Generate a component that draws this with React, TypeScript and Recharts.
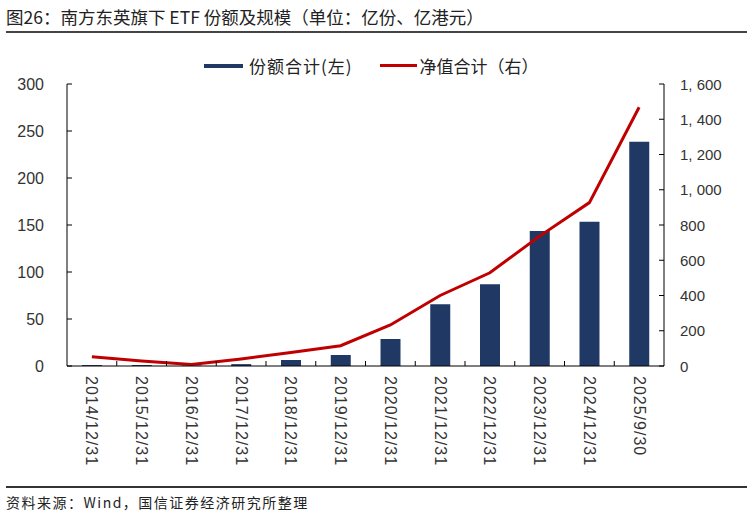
import React from "react";
import { ComposedChart, Bar, Line, XAxis, YAxis } from "recharts";

// 日期（横轴）
const dates = [
  "2014/12/31",
  "2015/12/31",
  "2016/12/31",
  "2017/12/31",
  "2018/12/31",
  "2019/12/31",
  "2020/12/31",
  "2021/12/31",
  "2022/12/31",
  "2023/12/31",
  "2024/12/31",
  "2025/9/30",
];
// 份额合计（亿份，左轴）
const shares = [1, 1, 0.5, 2, 6.4, 11.7, 28.7, 65.6, 87, 143.6, 153.5, 238.6];
// 净值合计（亿港元，右轴）
const netValue = [53, 28, 8, 40, 76, 115, 233, 400, 529, 737, 927, 1468];

const leftTicks = [0, 50, 100, 150, 200, 250, 300];
const rightTicks = [0, 200, 400, 600, 800, 1000, 1200, 1400, 1600];

const data = dates.map((d, i) => ({ date: d, shares: shares[i], net: netValue[i] }));

const W = 753;
const H = 513;
const PLOT_L = 67;
const PLOT_R = 664;
const BAND = (PLOT_R - PLOT_L) / dates.length;
const AXIS = "#000";
const TEXT = "#333";
const NUM_FONT = "'Liberation Sans', Arial, sans-serif";
const CJK_FONT = "'Noto Sans CJK SC', sans-serif";

const fmtThousands = (v: number) =>
  v >= 1000 ? `${Math.floor(v / 1000)}, ${String(v % 1000).padStart(3, "0")}` : String(v);

function LeftTick(props: any) {
  const { y, payload } = props;
  return (
    <g>
      <line x1={PLOT_L} x2={PLOT_L + 5} y1={y} y2={y} stroke={AXIS} />
      <text x={PLOT_L - 23} y={y} textAnchor="end" dominantBaseline="central"
        fontSize={16} fill={TEXT} fontFamily={NUM_FONT}>
        {payload.value}
      </text>
    </g>
  );
}

function RightTick(props: any) {
  const { y, payload } = props;
  return (
    <g>
      <line x1={PLOT_R - 5} x2={PLOT_R} y1={y} y2={y} stroke={AXIS} />
      <text x={PLOT_R + 16} y={y} textAnchor="start" dominantBaseline="central"
        fontSize={15} fill={TEXT} fontFamily={NUM_FONT}>
        {fmtThousands(payload.value)}
      </text>
    </g>
  );
}

function DateTick(props: any) {
  const { x, payload, index } = props;
  const left = x - BAND / 2;
  return (
    <g>
      {index > 0 && <line x1={left} x2={left} y1={366} y2={361} stroke={AXIS} />}
      <text transform={`translate(${x},${376}) rotate(90)`} textAnchor="start"
        dominantBaseline="central" fontSize={16} letterSpacing={1} fill={TEXT} fontFamily={NUM_FONT}>
        {payload.value}
      </text>
    </g>
  );
}

export default function App() {
  return (
    <div style={{ position: "absolute", left: 0, top: 0, width: W, height: H, background: "#fff" }}>
      <div style={{ position: "absolute", left: 6, top: 4, fontSize: 17.5, color: "#222", fontFamily: CJK_FONT, whiteSpace: "nowrap" }}>
        图26：南方东英旗下 ETF 份额及规模（单位：亿份、亿港元）
      </div>
      <div style={{ position: "absolute", left: 6, right: 6, top: 31, height: 2, background: "#444" }} />

      <div style={{ position: "absolute", left: 204, top: 53, display: "flex", alignItems: "center", fontFamily: CJK_FONT, fontSize: 17, color: "#222", whiteSpace: "nowrap" }}>
        <span style={{ display: "inline-block", width: 39, height: 4, background: "#203864", marginRight: 6 }} />
        <span style={{ letterSpacing: 1 }}>份额合计(左)</span>
        <span style={{ display: "inline-block", width: 37, height: 2.5, background: "#C00000", marginLeft: 27, marginRight: 3 }} />
        <span>净值合计（右）</span>
      </div>

      <div style={{ position: "absolute", left: 0, top: 0 }}>
        <ComposedChart width={W} height={H} data={data}
          margin={{ top: 84, right: 0, bottom: 0, left: 0 }}>
          <XAxis dataKey="date" height={147} axisLine={{ stroke: AXIS }} tickLine={false}
            tickSize={0} tick={<DateTick />} interval={0} />
          <YAxis yAxisId="left" orientation="left" width={PLOT_L} domain={[0, 300]}
            ticks={leftTicks} axisLine={{ stroke: AXIS }} tickLine={false} tickSize={0}
            tick={<LeftTick />} interval={0} />
          <YAxis yAxisId="right" orientation="right" width={W - PLOT_R} domain={[0, 1600]}
            ticks={rightTicks} axisLine={{ stroke: AXIS }} tickLine={false} tickSize={0}
            tick={<RightTick />} interval={0} />
          <Bar yAxisId="left" dataKey="shares" fill="#203864" barSize={20} isAnimationActive={false} />
          <Line yAxisId="right" dataKey="net" type="linear" stroke="#C00000" strokeWidth={3}
            dot={false} isAnimationActive={false} />
        </ComposedChart>
      </div>

      <div style={{ position: "absolute", left: 6, right: 6, top: 486, height: 1.5, background: "#333" }} />
      <div style={{ position: "absolute", left: 6, top: 492, fontSize: 14, letterSpacing: 1.5, color: "#222", fontFamily: CJK_FONT, whiteSpace: "nowrap" }}>
        资料来源：Wind，国信证券经济研究所整理
      </div>
    </div>
  );
}
